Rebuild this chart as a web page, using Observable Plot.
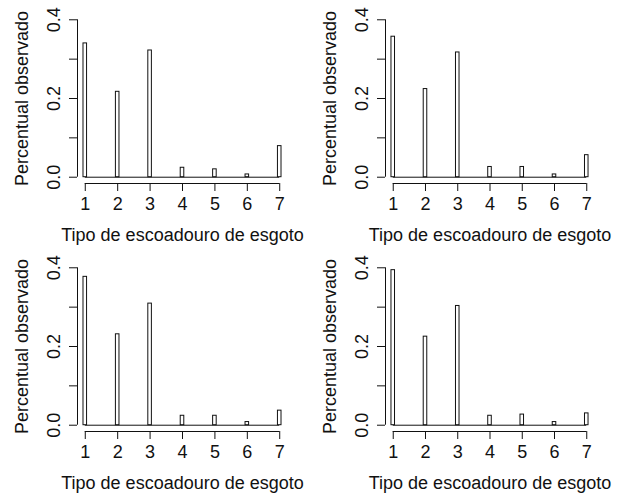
<!DOCTYPE html>
<html>
<head>
<meta charset="utf-8">
<script src="https://cdn.jsdelivr.net/npm/d3@7"></script>
<script src="https://cdn.jsdelivr.net/npm/@observablehq/plot@0.6"></script>
<style>
  html, body { margin: 0; padding: 0; background: #fff; }
  #grid { position: relative; width: 624px; height: 495px; background: #fff; overflow: hidden; }
  .cell { position: absolute; }
</style>
</head>
<body>
<div id="grid"></div>
<script>
// Sewage outlet type (1-7) and observed share in each of four samples
const categorias = [1, 2, 3, 4, 5, 6, 7];
const painel1 = [0.340, 0.217, 0.322, 0.024, 0.020, 0.007, 0.079];
const painel2 = [0.357, 0.224, 0.317, 0.026, 0.026, 0.007, 0.056];
const painel3 = [0.377, 0.231, 0.309, 0.024, 0.024, 0.008, 0.037];
const painel4 = [0.394, 0.225, 0.303, 0.024, 0.027, 0.008, 0.030];

const yTicks = [0, 0.1, 0.2, 0.3, 0.4];
const yTickLabels = ["0.0", "", "0.2", "", "0.4"];
const xTickLabels = ["1", "2", "3", "4", "5", "6", "7"];
const xLabel = "Tipo de escoadouro de esgoto";
const yLabel = "Percentual observado";

const xDomain = [0.76, 7.24];
const yDomain = [-0.016, 0.416];
const font = "'Liberation Sans', Arial, sans-serif";

function painel(valores, {marginLeft, marginRight, height, marginBottom}) {
  const dados = categorias.map((c, i) => ({cat: c, v: valores[i]}));
  return Plot.plot({
    width: 312,
    height,
    marginLeft,
    marginRight,
    marginTop: 13,
    marginBottom,
    x: {domain: xDomain},
    y: {domain: yDomain},
    style: {fontFamily: font, fontSize: "18px", color: "#111", background: "white", overflow: "visible"},
    marks: [
      // y axis line spanning 0..0.4 and its ticks
      Plot.ruleX([xDomain[0]], {y1: yTicks[0], y2: yTicks[yTicks.length - 1], stroke: "#111"}),
      Plot.axisY(yTicks, {
        anchor: "left", tickSize: 8, tickPadding: 10, tickRotate: -90, fontSize: 18,
        tickFormat: d => yTickLabels[yTicks.indexOf(d)], label: null
      }),
      // x axis line spanning 1..7 and its ticks
      Plot.ruleY([yDomain[0]], {x1: categorias[0], x2: categorias[categorias.length - 1], stroke: "#111"}),
      Plot.axisX(categorias, {
        anchor: "bottom", tickSize: 8, tickPadding: 6, fontSize: 18,
        tickFormat: d => xTickLabels[categorias.indexOf(d)], label: null
      }),
      // baseline of the bars
      Plot.ruleY([0], {x1: categorias[0], x2: categorias[categorias.length - 1], stroke: "#111"}),
      // narrow hollow bars
      Plot.rect(dados, {
        x1: d => d.cat - 0.055, x2: d => d.cat + 0.055, y1: 0, y2: "v",
        fill: "white", stroke: "#111", strokeWidth: 1
      }),
      // axis titles
      Plot.text([yLabel], {
        frameAnchor: "left", rotate: -90, dx: -55, textAnchor: "middle", lineAnchor: "middle",
        fontSize: 18, fill: "#111"
      }),
      Plot.text([xLabel], {
        frameAnchor: "bottom", dy: 52, textAnchor: "middle", lineAnchor: "middle",
        fontSize: 18, fill: "#111"
      })
    ]
  });
}

const grid = document.getElementById("grid");
const celulas = [
  {valores: painel1, left: 0,   top: 0,   opts: {marginLeft: 77, marginRight: 25, height: 248, marginBottom: 65}},
  {valores: painel2, left: 312, top: 0,   opts: {marginLeft: 73, marginRight: 30, height: 248, marginBottom: 65}},
  {valores: painel3, left: 0,   top: 248, opts: {marginLeft: 77, marginRight: 25, height: 247, marginBottom: 64}},
  {valores: painel4, left: 312, top: 248, opts: {marginLeft: 73, marginRight: 30, height: 247, marginBottom: 64}}
];
for (const c of celulas) {
  const div = document.createElement("div");
  div.className = "cell";
  div.style.left = c.left + "px";
  div.style.top = c.top + "px";
  div.appendChild(painel(c.valores, c.opts));
  grid.appendChild(div);
}
</script>
</body>
</html>
